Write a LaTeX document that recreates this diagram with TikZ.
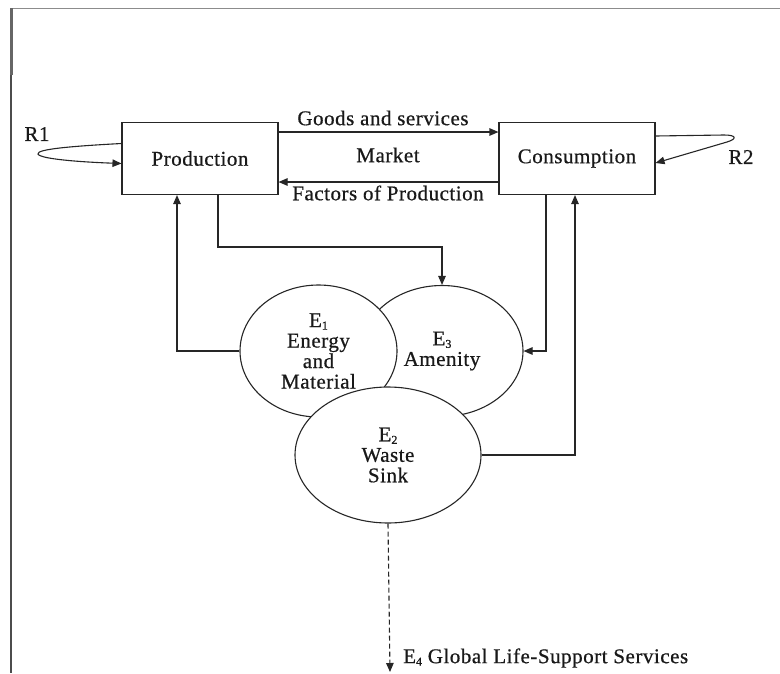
\documentclass[tikz,border=0pt]{standalone}
\usepackage{fontspec}
\setmainfont[LetterSpace=2.5,FakeBold=0.6]{Liberation Serif}
\usetikzlibrary{arrows.meta,shapes.geometric,calc}
\newcommand{\subidx}[1]{\raisebox{-0.12em}{\fontsize{12}{12}\selectfont #1}}
\begin{document}
\begin{tikzpicture}[x=1pt,y=-1pt,
  every node/.style={font=\fontsize{21}{20.5}\selectfont, text=black!90},
  ln/.style={draw=black!85, line width=1.1pt},
  arr/.style={ln, -{Triangle[length=9pt,width=7.5pt]}},
  box/.style={ln, rectangle, minimum width=156pt, minimum height=72pt, inner sep=0pt},
  eco/.style={ln, ellipse, fill=white, inner sep=0pt, align=center},
  lbl/.style={inner sep=0pt}
]
\useasboundingbox (0,0) rectangle (780,673);
% frame
\draw[draw=black!45, line width=1pt] (11,8) -- (780,8);
\draw[draw=black!70, line width=1.3pt] (11,8) -- (11,673);
\draw[draw=black!60, line width=2.4pt] (11.5,8) -- (11.5,75);

% boxes
\node[box] (prod) at (200,158.5) {Production};
\node[box] (cons) at (577,158.5) {Consumption};

% ellipses (E3 below E1, E2 on top)
\node[eco, minimum width=162pt, minimum height=131pt] (e3) at (442,351) {E\subidx{3}\\Amenity};
\node[eco, minimum width=157pt, minimum height=132pt] (e1) at (318.5,351) {E\subidx{1}\\Energy\\and\\Material};
\node[eco, minimum width=186pt, minimum height=136pt] (e2) at (388,455) {E\subidx{2}\\Waste\\Sink};

% market arrows
\draw[arr] ([yshift=26.5pt]prod.east) -- ([yshift=26.5pt]cons.west);
\draw[arr] ([yshift=-23.5pt]cons.west) -- ([yshift=-23.5pt]prod.east);
\node[lbl] (gs) at (383,118) {Goods and services};
\node[lbl] (mk) at (388,155) {Market};
\node[lbl] (fp) at (388,193) {Factors of Production};

% R1 loop
\draw[arr] ([yshift=15pt]prod.west) .. controls (75,146) and (36,149) .. (38,154)
  .. controls (40,159) and (80,162) .. ([yshift=-5pt]prod.west);
\node[lbl] (r1) at (37,134) {R1};

% R2 loop
\draw[arr] ([yshift=22.5pt]cons.east) -- (724,135) .. controls (737,135) and (737,139) .. (727,142)
  -- ([yshift=-4.5pt]cons.east);
\node[lbl] (r2) at (741,157) {R2};

% lower connectors
\coordinate (k1) at (330,247);
\draw[arr] ([xshift=18pt]prod.south) |- (k1) -| (e3.north);
\draw[arr] (e1.west) -| ([xshift=-23pt]prod.south);
\draw[arr] ([xshift=-31pt]cons.south) |- (e3.east);
\draw[arr] (e2.east) -| ([xshift=-2pt]cons.south);

% E4 dashed
\coordinate (e4) at (390,672);
\draw[arr, dashed, dash pattern=on 5pt off 3pt] (e2.south) -- (e4);
\node[lbl, anchor=west] (e4t) at (403,658) {E\subidx{4} Global Life-Support Services};
\end{tikzpicture}
\end{document}
